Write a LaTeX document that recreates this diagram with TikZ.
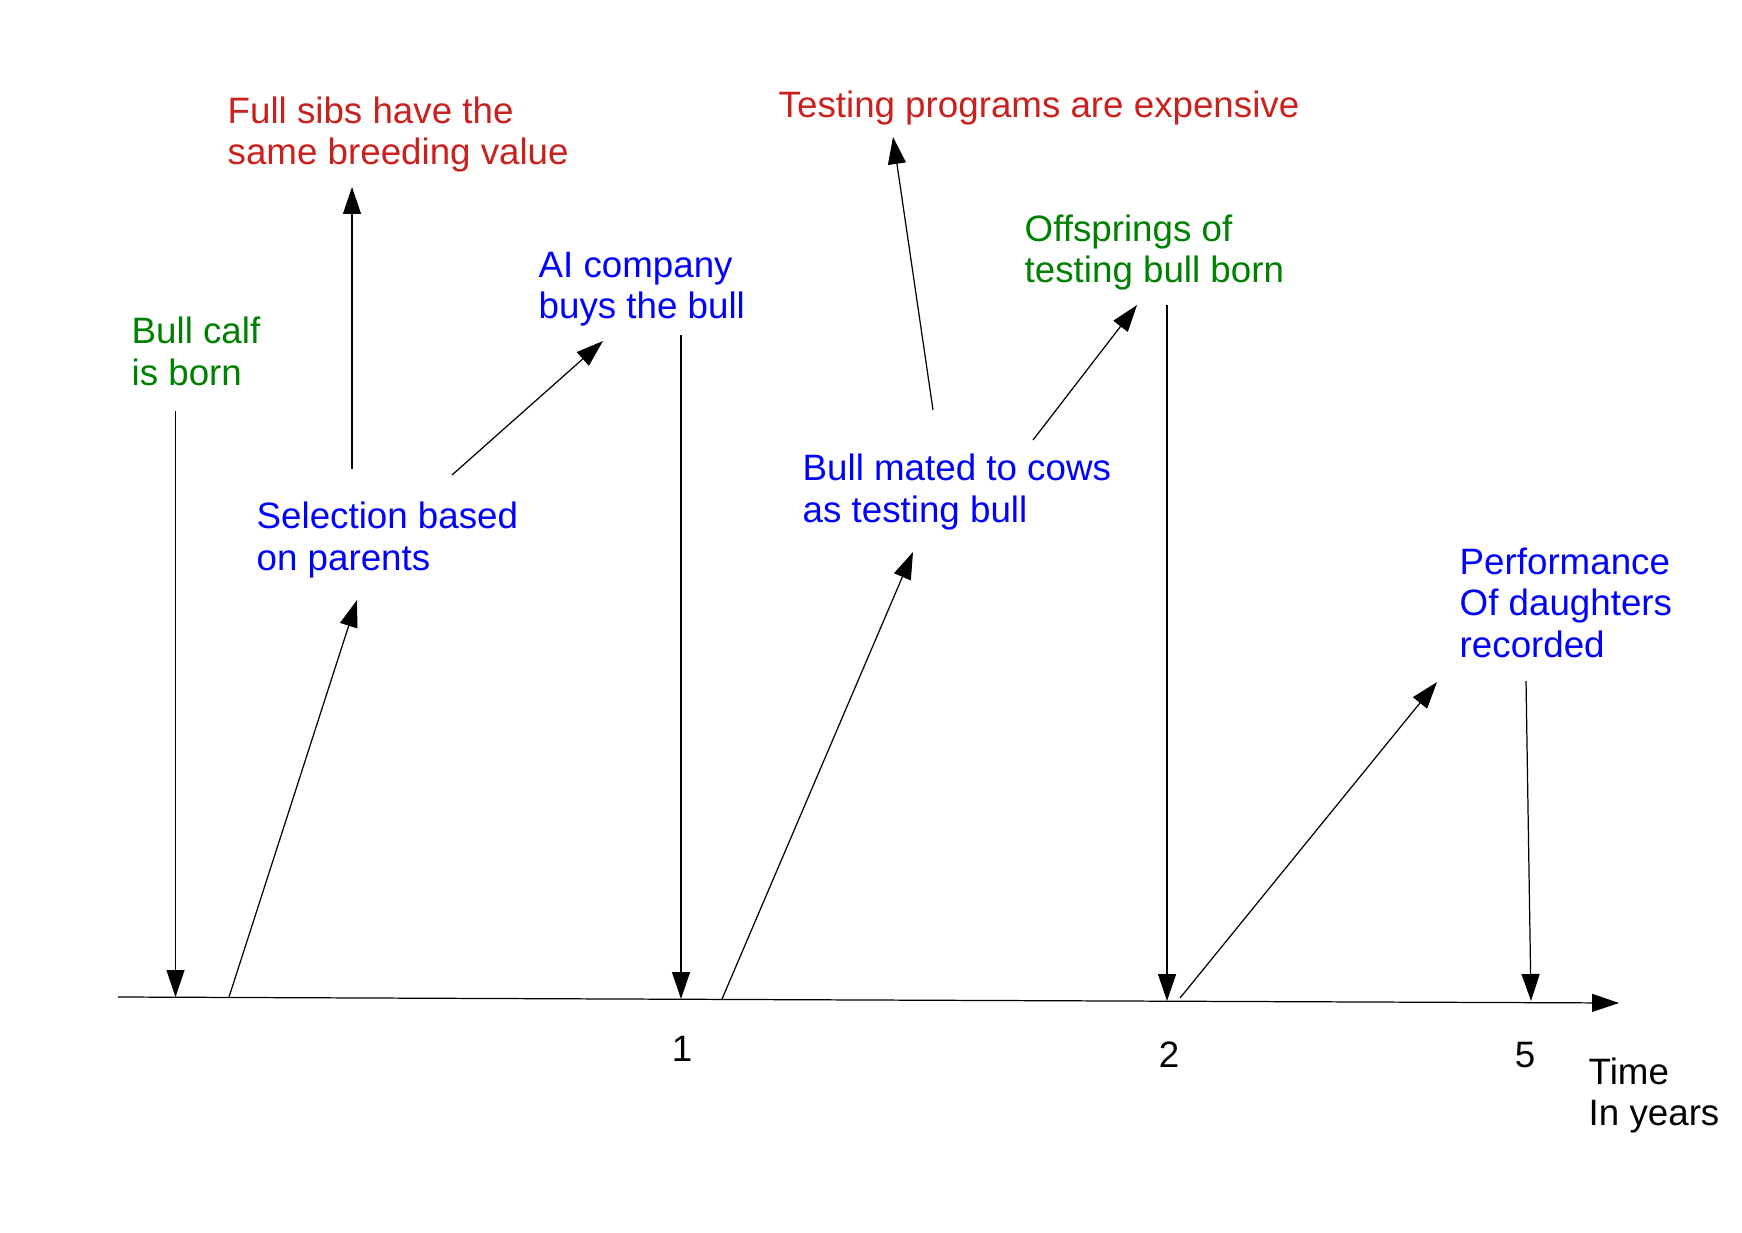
\documentclass[tikz,border=0pt]{standalone}
\usepackage{fontspec}
\setmainfont{Liberation Sans}
\usepackage{tikz,xcolor}
\usetikzlibrary{arrows.meta}
\definecolor{notered}{RGB}{201,33,30}
\definecolor{notegreen}{RGB}{0,128,0}
\definecolor{noteblue}{RGB}{0,0,255}
\tikzset{
  % style for the time line arrows
  event arrow/.style={black, line width=0.35pt,
    -{Triangle[length=0.27cm,width=0.18cm]}},
  % style for the text blocks (base = last line)
  note/.style={anchor=base west, align=left, inner sep=0pt,
    font=\fontsize{10.45pt}{11.67pt}\selectfont},
}
\begin{document}
\begin{tikzpicture}
  \useasboundingbox (0,0) rectangle (17.42,12.32);
  % the texts
  \node[note, notered] (sibs) at (2.27,10.67) {Full sibs have the\\same breeding value};
  \node[note, notered] (cost) at (7.78,11.14) {Testing programs are expensive};
  \node[note, notegreen] (calf) at (1.31,8.47) {Bull calf\\is born};
  \node[note, noteblue] (buys) at (5.38,9.13) {AI company\\buys the bull};
  \node[note, noteblue] (sel) at (2.56,6.62) {Selection based\\on parents};
  \node[note, notegreen] (offs) at (10.24,9.49) {Offsprings of\\testing bull born};
  \node[note, noteblue] (mated) at (8.02,7.10) {Bull mated to cows\\as testing bull};
  \node[note, noteblue] (perf) at (14.59,5.75) {Performance\\Of daughters\\recorded};
  \node[note, anchor=base] (one) at (6.82,1.71) {1};
  \node[note, anchor=base] (two) at (11.69,1.65) {2};
  \node[note, anchor=base] (five) at (15.25,1.65) {5};
  \node[note] (time) at (15.88,1.07) {Time\\In years};
  % end points of the arrows
  \coordinate (t0) at (1.18,2.35);
  \coordinate (t9) at (16.19,2.29);
  \coordinate (calf1) at (1.755,8.21);  \coordinate (calf2) at (1.755,2.35);
  \coordinate (sel1) at (2.29,2.35);    \coordinate (sel2) at (3.57,6.32);
  \coordinate (sibs1) at (3.52,7.63);   \coordinate (sibs2) at (3.52,10.45);
  \coordinate (buys1) at (4.52,7.57);   \coordinate (buys2) at (6.03,8.91);
  \coordinate (one1) at (6.81,8.97);    \coordinate (one2) at (6.81,2.33);
  \coordinate (mated1) at (7.22,2.33);  \coordinate (mated2) at (9.13,6.80);
  \coordinate (cost1) at (9.33,8.22);   \coordinate (cost2) at (8.93,10.95);
  \coordinate (offs1) at (10.33,7.92);  \coordinate (offs2) at (11.37,9.27);
  \coordinate (two1) at (11.67,9.27);   \coordinate (two2) at (11.67,2.31);
  \coordinate (perf1) at (11.80,2.34);  \coordinate (perf2) at (14.37,5.50);
  \coordinate (five1) at (15.26,5.51);  \coordinate (five2) at (15.31,2.31);
  % the time axis
  \draw[event arrow] (t0) -- (t9);
  \foreach \a in {calf,sel,sibs,buys,one,mated,cost,offs,two,perf,five}
    \draw[event arrow] (\a1) -- (\a2);
\end{tikzpicture}
\end{document}
